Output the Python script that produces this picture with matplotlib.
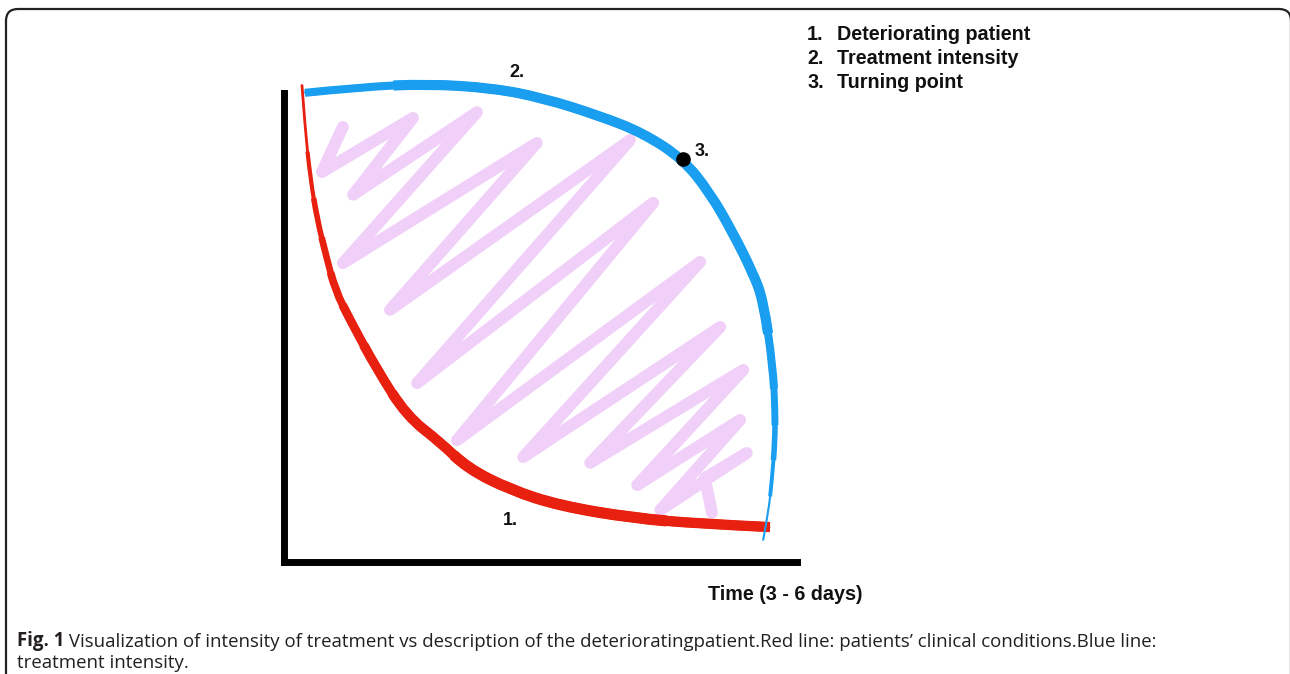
import numpy as np
import matplotlib.pyplot as plt
from matplotlib.path import Path
from matplotlib.patches import FancyBboxPatch, PathPatch

# values (time on x, level on y, both 0..1)
red_x = [0.027, 0.033, 0.043, 0.057, 0.074, 0.092, 0.121, 0.174, 0.232, 0.297,
         0.350, 0.434, 0.531, 0.674, 0.805, 0.941]
red_y = [1.011, 0.922, 0.816, 0.725, 0.650, 0.576, 0.513, 0.407, 0.309, 0.254,
         0.199, 0.153, 0.119, 0.093, 0.081, 0.074]

blue_x = [0.033, 0.141, 0.271, 0.400, 0.498, 0.609, 0.693, 0.771, 0.824, 0.869,
          0.908, 0.928, 0.947, 0.951, 0.951, 0.945, 0.938, 0.928]
blue_y = [0.994, 1.006, 1.013, 1.004, 0.983, 0.945, 0.909, 0.854, 0.782, 0.697,
          0.612, 0.555, 0.413, 0.322, 0.258, 0.174, 0.104, 0.047]

turn_x = [0.771]
turn_y = [0.854]

# crayon scribble between the two curves
scribble_x = [0.107, 0.066, 0.244, 0.127, 0.369, 0.107, 0.486, 0.199, 0.668, 0.252,
              0.713, 0.330, 0.805, 0.459, 0.844, 0.590, 0.889, 0.682, 0.883, 0.727,
              0.896, 0.814, 0.828]
scribble_y = [0.922, 0.826, 0.941, 0.778, 0.953, 0.633, 0.888, 0.534, 0.894, 0.379,
              0.761, 0.258, 0.636, 0.222, 0.498, 0.210, 0.407, 0.163, 0.301, 0.110,
              0.231, 0.178, 0.104]

legend_nums = ['1.', '2.', '3.']
legend_labels = ['Deteriorating patient', 'Treatment intensity', 'Turning point']
xlabel = 'Time (3 - 6 days)'
caption_bold = 'Fig. 1'
caption_line1 = (' Visualization of intensity of treatment vs description of the deterioratingpatient.'
                 'Red line: patients\u2019 clinical conditions.Blue line:')
caption_line2 = 'treatment intensity.'

RED = '#e8200f'
BLUE = '#1a9ef0'
PINK = '#f0cff8'


def sub_path(x, y, a, b):
    # piece a..b of one smooth quadratic curve through the midpoints of the points
    p = np.column_stack([x, y])
    n = len(p)
    knots = [p[0]] + [(p[i] + p[i + 1]) / 2 for i in range(1, n - 2)] + [p[-1]]
    verts = [knots[a - 1]]
    codes = [Path.MOVETO]
    for i in range(a, b + 1):
        verts += [p[i], knots[i]]
        codes += [Path.CURVE3, Path.CURVE3]
    return Path(verts, codes)


def tapered(ax, x, y, layers, color, z=3):
    # stack strokes of growing width on shorter stretches of the same curve
    for k, (a, b, lw) in enumerate(layers):
        ax.add_patch(PathPatch(sub_path(x, y, a, b), facecolor='none', edgecolor=color,
                               lw=lw, capstyle='round' if k == 0 else 'butt',
                               joinstyle='round', clip_on=False, zorder=z))


fig = plt.figure(figsize=(12.9, 6.74), dpi=100)

# overlay in pixel units for the frame and free text
ov = fig.add_axes([0, 0, 1, 1])
ov.set_xlim(0, 1290)
ov.set_ylim(674, 0)
ov.axis('off')
ov.add_patch(FancyBboxPatch((6, 9), 1285, 700, boxstyle='round,pad=0,rounding_size=12',
                            facecolor='none', edgecolor='#222222', lw=1.6))

# main chart
ax = fig.add_axes([284 / 1290, (674 - 562) / 674, 513 / 1290, 469 / 674])
ax.patch.set_visible(False)
ax.set_xlim(-0.008, 0.994)
ax.set_ylim(0, 0.9936)
for s in ['top', 'right']:
    ax.spines[s].set_visible(False)
for s in ['left', 'bottom']:
    ax.spines[s].set_linewidth(5)
    ax.spines[s].set_color('black')
ax.set_xticks([])
ax.set_yticks([])

ax.plot(scribble_x, scribble_y, color=PINK, lw=8.5, solid_joinstyle='round',
        solid_capstyle='round', zorder=1)

red_layers = [(1, 14, 1.0), (1, 14, 2.0), (2, 14, 3.0), (3, 14, 4.0), (4, 14, 4.8),
              (5, 14, 5.6), (6, 14, 6.3), (7, 14, 6.9), (8, 14, 7.4), (10, 13, 8.0)]
blue_layers = [(1, 16, 1.5), (1, 15, 2.8), (1, 14, 4.0), (1, 13, 5.0), (1, 12, 5.8),
               (2, 11, 6.6), (2, 11, 7.3)]
tapered(ax, red_x, red_y, red_layers, RED)
tapered(ax, blue_x, blue_y, blue_layers, BLUE)

ax.plot(turn_x, turn_y, 'o', color='black', ms=9.5, zorder=5, clip_on=False)

lab = dict(family='Liberation Sans', weight='bold', fontsize=13, color='#111111')
ax.text(0.434, 0.087, '1.', ha='center', va='center', **lab)
ax.text(0.447, 1.036, '2.', ha='center', va='center', clip_on=False, **lab)
ax.text(0.795, 0.869, '3.', ha='left', va='center', **lab)

# legend block, top right
leg = dict(family='Liberation Sans', weight='bold', fontsize=14.2, color='#111111', va='center')
for i, (n, t) in enumerate(zip(legend_nums, legend_labels)):
    ov.text(807, 35 + 24 * i, n, ha='left', **leg)
    ov.text(837, 35 + 24 * i, t, ha='left', **leg)

ov.text(785, 594, xlabel, ha='center', **leg)

# caption
cap = dict(family='Open Sans', fontsize=13.4, color='#231f20')
b = ov.text(17, 646, caption_bold, ha='left', va='baseline', weight='bold', **cap)
ov.annotate(caption_line1, xy=(1, 0), xycoords=b, ha='left', va='bottom', **cap)
ov.text(17, 668, caption_line2, ha='left', va='baseline', **cap)

fig.savefig('out.png', dpi=100)
